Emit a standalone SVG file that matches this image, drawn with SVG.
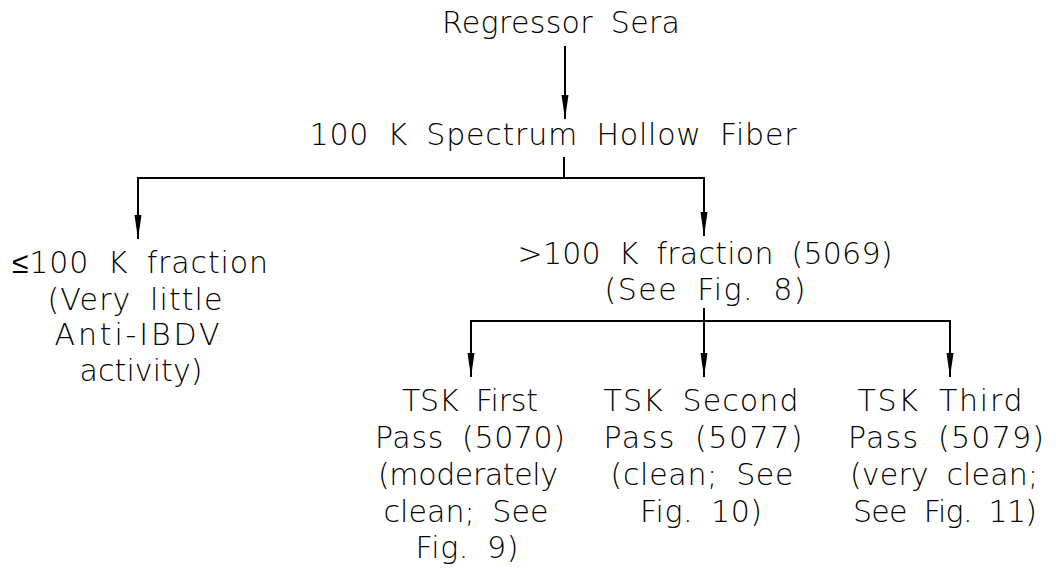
<svg xmlns="http://www.w3.org/2000/svg" width="1056" height="571" viewBox="0 0 1056 571">
<defs>
<style>
text{font-family:"DejaVu Sans","Liberation Sans",sans-serif;font-size:30px;font-weight:200;fill:#000;text-anchor:middle;word-spacing:8px}
.c{stroke:#000;stroke-width:2;fill:none}
</style>
<marker id="ah" markerUnits="userSpaceOnUse" markerWidth="24" markerHeight="8" refX="24" refY="4" orient="auto" viewBox="0 0 24 8">
<path d="M0,0.5 L24,4 L0,7.5 Z" fill="#000"/>
</marker>
</defs>
<rect width="1056" height="571" fill="#fff"/>
<g id="connectors">
<line class="c" x1="565" y1="46" x2="565" y2="119" marker-end="url(#ah)"/>
<line class="c" x1="564" y1="157" x2="564" y2="178"/>
<polyline class="c" points="138,238 138,178 704,178 704,236" marker-end="url(#ah)"/>
<line class="c" x1="138" y1="179" x2="138" y2="239" marker-end="url(#ah)"/>
<line class="c" x1="704" y1="308" x2="704" y2="321"/>
<line class="c" x1="471" y1="321" x2="950" y2="321"/>
<line class="c" x1="471" y1="320" x2="471" y2="377" marker-end="url(#ah)"/>
<line class="c" x1="704" y1="320" x2="704" y2="377" marker-end="url(#ah)"/>
<line class="c" x1="950" y1="320" x2="950" y2="377" marker-end="url(#ah)"/>
</g>
<g id="regressor-sera"><text x="561" y="33" textLength="238" lengthAdjust="spacing">Regressor Sera</text></g>
<g id="hollow-fiber"><text x="553" y="145" textLength="487" lengthAdjust="spacing">100 K Spectrum Hollow Fiber</text></g>
<g id="le-100k">
<text x="140" y="273" textLength="256" lengthAdjust="spacing">≤100 K fraction</text>
<text x="135" y="310" textLength="175" lengthAdjust="spacing">(Very little</text>
<text x="137" y="345" textLength="165" lengthAdjust="spacing">Anti-IBDV</text>
<text x="141" y="381" textLength="123" lengthAdjust="spacing">activity)</text>
</g>
<g id="gt-100k">
<text x="705" y="264" textLength="375" lengthAdjust="spacing">&gt;100 K fraction (5069)</text>
<text x="705" y="300" textLength="201" lengthAdjust="spacing">(See Fig. 8)</text>
</g>
<g id="tsk-first">
<text x="470" y="411" textLength="136" lengthAdjust="spacing">TSK First</text>
<text x="470" y="448" textLength="190" lengthAdjust="spacing">Pass (5070)</text>
<text x="468" y="485" textLength="180" lengthAdjust="spacing">(moderately</text>
<text x="466" y="522" textLength="165" lengthAdjust="spacing">clean; See</text>
<text x="467" y="558" textLength="103" lengthAdjust="spacing">Fig. 9)</text>
</g>
<g id="tsk-second">
<text x="701" y="411" textLength="195" lengthAdjust="spacing">TSK Second</text>
<text x="703" y="448" textLength="199" lengthAdjust="spacing">Pass (5077)</text>
<text x="702" y="485" textLength="183" lengthAdjust="spacing">(clean; See</text>
<text x="701" y="522" textLength="122" lengthAdjust="spacing">Fig. 10)</text>
</g>
<g id="tsk-third">
<text x="940" y="411" textLength="165" lengthAdjust="spacing">TSK Third</text>
<text x="946" y="448" textLength="196" lengthAdjust="spacing">Pass (5079)</text>
<text x="944" y="485" textLength="188" lengthAdjust="spacing">(very clean;</text>
<text x="945" y="522" textLength="184" lengthAdjust="spacing">See Fig. 11)</text>
</g>
</svg>
